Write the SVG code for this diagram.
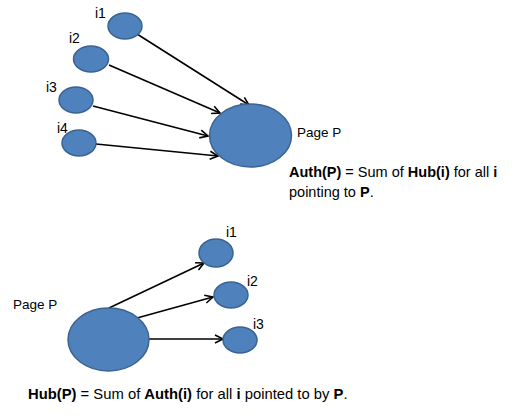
<svg xmlns="http://www.w3.org/2000/svg" width="524" height="419" viewBox="0 0 524 419">
<style>
.n{fill:#4F81BD;stroke:#3A6390;stroke-width:1.5}
.c line{stroke:#000;stroke-width:1.6;marker-end:url(#ah)}
text{font-family:"Liberation Sans",Arial,sans-serif;font-size:14px;fill:#000}
.s{font-size:13.5px}
.l{font-size:14.5px}
.l2{font-size:14.8px}
.b{font-weight:bold}
</style>
<defs>
<marker id="ah" markerUnits="userSpaceOnUse" markerWidth="12" markerHeight="12" refX="9" refY="5" orient="auto" viewBox="0 0 12 10">
<path d="M1,1 L9,5 L1,9" fill="none" stroke="#000" stroke-width="1.6"/>
</marker>
</defs>
<rect width="524" height="419" fill="#fff"/>
<g class="c" id="connectors">
<line x1="137" y1="34" x2="249" y2="105"/>
<line x1="109" y1="65" x2="220" y2="113"/>
<line x1="93" y1="106" x2="208" y2="136"/>
<line x1="96" y1="144" x2="218" y2="156"/>
<line x1="109" y1="308" x2="204" y2="263"/>
<line x1="137" y1="318" x2="213" y2="297"/>
<line x1="149" y1="339" x2="223" y2="339"/>
</g>
<g id="t-i1"><ellipse class="n" cx="125" cy="26" rx="17" ry="13"/><text x="95" y="18">i1</text></g>
<g id="t-i2"><ellipse class="n" cx="91" cy="59" rx="17.5" ry="13"/><text x="69" y="43">i2</text></g>
<g id="t-i3"><ellipse class="n" cx="76" cy="100" rx="17" ry="13"/><text x="46" y="92">i3</text></g>
<g id="t-i4"><ellipse class="n" cx="79" cy="143" rx="17" ry="13"/><text x="57" y="133">i4</text></g>
<g id="t-P"><ellipse class="n" cx="250.5" cy="135.5" rx="41" ry="31.5"/><text class="s" x="297" y="137">Page P</text></g>
<g id="auth-text">
<text class="l" x="289" y="177"><tspan class="b">Auth(P)</tspan> = Sum of <tspan class="b">Hub(i)</tspan> for all <tspan class="b">i</tspan></text>
<text class="l" x="289" y="197">pointing to <tspan class="b">P</tspan>.</text>
</g>
<g id="b-P"><ellipse class="n" cx="108.5" cy="339.5" rx="40.5" ry="31.5"/><text class="s" x="13" y="309">Page P</text></g>
<g id="b-i1"><ellipse class="n" cx="216" cy="253" rx="17" ry="14"/><text x="226" y="237">i1</text></g>
<g id="b-i2"><ellipse class="n" cx="231" cy="295" rx="17" ry="13"/><text x="247" y="286">i2</text></g>
<g id="b-i3"><ellipse class="n" cx="240" cy="340" rx="17" ry="13"/><text x="253" y="329">i3</text></g>
<g id="hub-text">
<text class="l2" x="28" y="399"><tspan class="b">Hub(P)</tspan> = Sum of <tspan class="b">Auth(i)</tspan> for all <tspan class="b">i</tspan> pointed to by <tspan class="b">P</tspan>.</text>
</g>
</svg>
